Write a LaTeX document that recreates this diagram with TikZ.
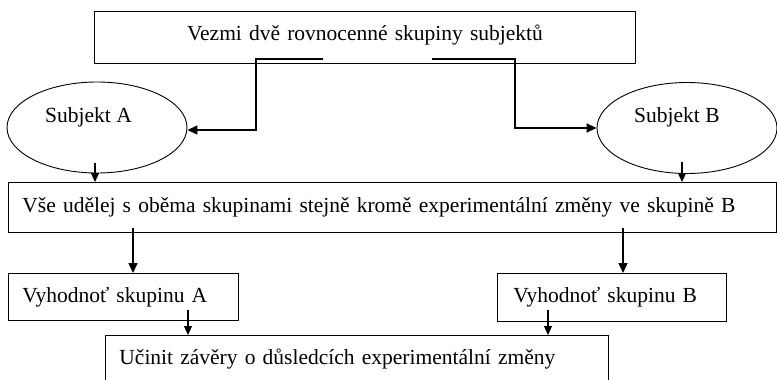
\documentclass[tikz,border=0pt]{standalone}
\usepackage{fontspec}
\setmainfont{Liberation Serif}
\usetikzlibrary{arrows.meta,shapes.geometric}
\begin{document}
\begin{tikzpicture}[x=1pt,y=-1pt,font=\fontsize{21.5}{26}\selectfont,
  box/.style={draw,line width=0.9pt,inner ysep=0pt,anchor=north west,align=left},
  oval/.style={draw,ellipse,line width=0.9pt,inner sep=0pt,minimum width=180pt,minimum height=91pt},
  lbl/.style={anchor=base west,inner sep=0pt},
  thickarrow/.style={line width=1.7pt,-{Triangle[length=10pt,width=9pt]}},
  medarrow/.style={line width=1.4pt,-{Triangle[length=10pt,width=9pt]}},
  thinarrow/.style={line width=1.1pt,-{Triangle[length=9pt,width=8pt]}}]
\clip (0,0) rectangle (777,380);
\fill[white] (0,0) rectangle (777,380);
% boxes
\node[box,align=center,inner xsep=0pt,text width=541pt,text height=29pt,text depth=23pt] (top) at (94,11) {Vezmi dvě rovnocenné skupiny subjektů};
\node[box,inner xsep=14pt,text width=740pt,text height=30pt,text depth=20pt] (mid) at (8,182) {Vše udělej s oběma skupinami stejně kromě experimentální změny ve skupině B};
\node[box,inner xsep=14pt,text width=202pt,text height=29pt,text depth=18pt] (va) at (8,273) {Vyhodnoť skupinu A};
\node[box,inner xsep=16pt,text width=197pt,text height=29pt,text depth=19pt] (vb) at (497,273) {Vyhodnoť skupinu B};
\node[box,inner xsep=14pt,text width=475pt,text height=29pt,text depth=31pt] (uc) at (105,335) {Učinit závěry o důsledcích experimentální změny};
% ellipses
\node[oval] (sa) at (97,127.5) {};
\node[oval] (sb) at (687,128) {};
\node[lbl] (ta) at (45,122) {Subjekt A};
\node[lbl] (tb) at (634,122) {Subjekt B};
% connectors
\coordinate (tl) at (323,59);
\coordinate (tlc) at (256,59);
\draw[thickarrow] (tl) -- (tlc) |- ([yshift=-2.5pt]sa.east);
\coordinate (tr) at (432,59);
\coordinate (trc) at (515,59);
\draw[thickarrow] (tr) -- (trc) |- (sb.west);
\coordinate (a1) at (95,163);
\draw[thinarrow] (a1) -- (a1 |- mid.north);
\coordinate (b1) at (682,162);
\draw[thinarrow] (b1) -- (b1 |- mid.north);
\coordinate (m1) at (133,228);
\draw[medarrow] (m1) -- (m1 |- va.north);
\coordinate (m2) at (623,228);
\draw[medarrow] (m2) -- (m2 |- vb.north);
\coordinate (v1) at (188,310);
\draw[thinarrow] (v1) -- (v1 |- uc.north);
\coordinate (v2) at (548,310);
\draw[thinarrow] (v2) -- (v2 |- uc.north);
\end{tikzpicture}
\end{document}
